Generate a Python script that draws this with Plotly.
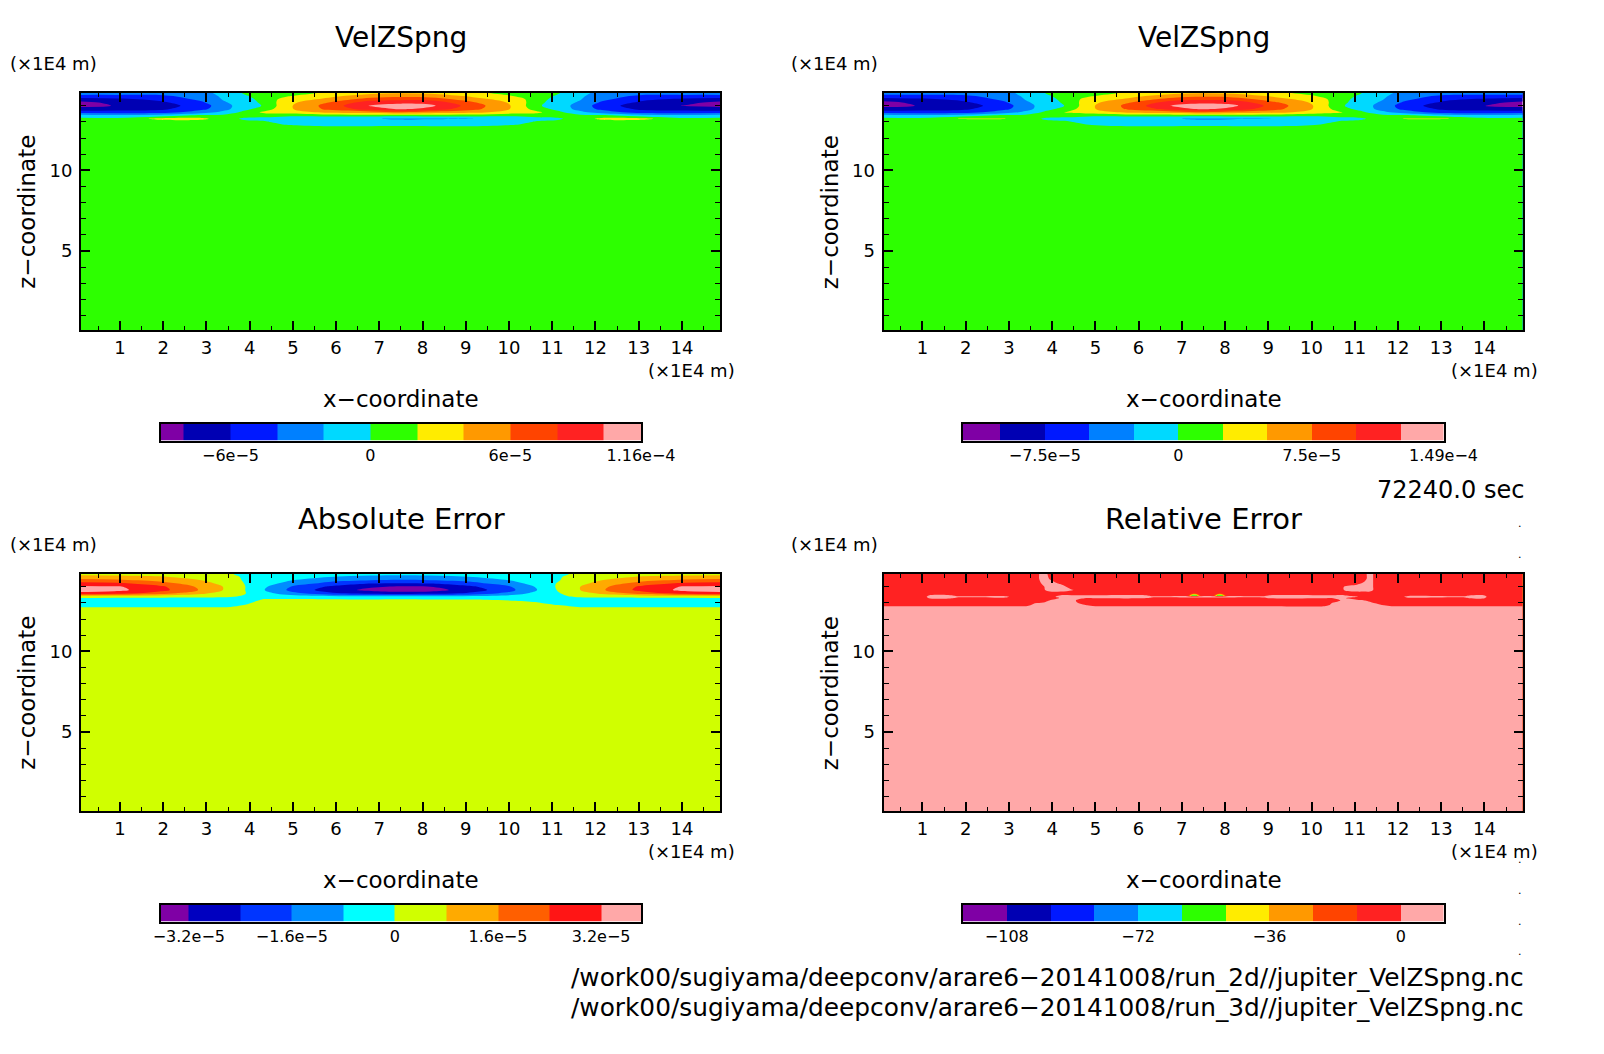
import numpy as np
import plotly.graph_objects as go

W, H = 1604, 1054

# ---------- colours ----------
COL11 = ["#7f00a5", "#0000b3", "#0019ff", "#0080ff", "#00d9ff", "#2dff00",
         "#ffec00", "#ff9900", "#ff4400", "#ff2222", "#ffa8a8"]
COL10 = ["#7f00a5", "#0000c0", "#0035ff", "#008cff", "#00ffff", "#d0ff00",
         "#ffaa00", "#ff5f00", "#ff1515", "#ffa8a8"]

# ---------- shared axes ----------
X_MAIN = [0.0, 0.93, 1.91, 2.89, 3.38, 3.87, 4.35, 4.85, 5.83, 6.81, 7.5,
          8.19, 9.17, 10.15, 10.65, 11.13, 11.65, 12.15, 13.09, 14.07, 15.0]
Z_MAIN = [15.0, 14.8, 14.6, 14.4, 14.2, 14.0, 13.8, 13.6, 13.4, 13.2, 13.0, 12.8, 12.6, 0.0]
X_TICKS = list(range(1, 15))
Z_TICKS = [5, 10]

# ---------- panel 1: VelZSpng, run_2d (1e-5 m/s); one list per x column ----------
VEL_A = [
    [-3, -3, -4.6, -7, -8.6, -8.6, -7, -5, -1, .5, 1, 1, 1, 1],
    [-3, -3, -4.6, -6.5, -7.5, -7.9, -7, -5, -1.5, .5, 1, 1, 1, 1],
    [-2.5, -3, -4.5, -5.5, -6.5, -7, -6.5, -5, -1, 2.5, 1, 1, 1, 1],
    [-2.2, -2.5, -3, -3.5, -4.3, -5, -4.5, -3, .5, 2.5, 1, 1, 1, 1],
    [-1.5, -1.5, -1.7, -1.9, -2.3, -2.8, -2.8, -1.5, .5, 1, 1, 1, 1, 1],
    [.3, .2, -.3, -.8, -1, -1, -.6, .5, .8, -.3, .5, 1, 1, 1],
    [.5, .8, 1, .8, .5, .2, 1, 2.5, 1, -.8, .3, 1, 1, 1],
    [.8, 1.2, 1.8, 2.8, 3.3, 3.5, 3.5, 3, .5, -1.2, -1, .1, 1, 1],
    [1.5, 2.2, 3.5, 4.5, 6, 6.8, 6.5, 4.5, 1, -2, -1.5, -.5, 1, 1],
    [2.5, 3.5, 5, 7, 9.2, 10.2, 9, 5, 1, -1.9, -1.5, -.5, 1, 1],
    [2.8, 3.8, 5.5, 7.5, 9.5, 11, 10.3, 6, .8, -2.2, -1.5, -.4, 1, 1],
    [2.5, 3.5, 5.2, 7.2, 9.3, 10.4, 9.3, 5.2, 1, -2.1, -1.5, -.5, 1, 1],
    [1.6, 2.3, 3.6, 4.8, 6.2, 7, 6.6, 4.6, 1, -2, -1.5, -.5, 1, 1],
    [.8, 1.3, 1.9, 2.9, 3.4, 3.6, 3.6, 3, .5, -1.3, -1, .1, 1, 1],
    [.5, .8, 1, .9, .6, .3, 1, 2.5, 1, -.8, .3, 1, 1, 1],
    [.3, .2, -.3, -.8, -1, -1, -.6, .5, .8, -.3, .5, 1, 1, 1],
    [-1.5, -1.5, -1.7, -1.9, -2.3, -2.8, -2.8, -1.5, .5, 1, 1, 1, 1, 1],
    [-2.2, -2.5, -3, -3.5, -4.3, -5, -4.5, -3, .5, 2.5, 1, 1, 1, 1],
    [-2.5, -3, -4.5, -5.5, -6.5, -7.2, -6.5, -5, -1, 2.5, 1, 1, 1, 1],
    [-3, -3, -4.6, -6.5, -7.5, -8.1, -7, -5, -1.5, .5, 1, 1, 1, 1],
    [-3, -3, -4.6, -7, -8.6, -8.7, -7, -5, -1, .5, 1, 1, 1, 1],
]
EDGES_A = [-8, -6, -4, -2, 0, 2, 4, 6, 8, 10]
BAR_LIMITS_A = [-9.0, 11.6]
BAR_TICKS_A = [-6, 0, 6, 11.6]
BAR_LABELS_A = ["−6e−5", "0", "6e−5", "1.16e−4"]

# ---------- panel 2: VelZSpng, run_3d ----------
VEL_B = [
    [-3.8, -3.8, -5.8, -8.8, -10.8, -10.8, -8.8, -6.2, -1.2, .6, 1.2, 1.2, 1.2, 1.2],
    [-3.8, -3.8, -5.8, -8.1, -9.4, -9.9, -8.8, -6.2, -1.9, .6, 1.2, 1.2, 1.2, 1.2],
    [-3.1, -3.8, -5.6, -6.9, -8.1, -8.8, -8.1, -6.2, -1.2, 2.7, 1.2, 1.2, 1.2, 1.2],
    [-2.8, -3.1, -3.8, -4.4, -5.4, -6.2, -5.6, -3.8, .6, 2.6, 1.2, 1.2, 1.2, 1.2],
    [-1.9, -1.9, -2.1, -2.4, -2.9, -3.5, -3.5, -1.9, .6, 1.2, 1.2, 1.2, 1.2, 1.2],
    [.4, .2, -.4, -1, -1.2, -1.2, -.8, .6, 1, -.4, .6, 1.2, 1.2, 1.2],
    [.6, 1, 1.2, 1, .6, .2, 1.2, 2.8, 1.2, -1, .4, 1.2, 1.2, 1.2],
    [1, 1.5, 2.2, 3.5, 4.1, 4.4, 4.4, 3.8, .6, -1.5, -1.2, .1, 1.2, 1.2],
    [1.9, 2.8, 4.4, 5.6, 7.5, 8.5, 8.1, 5.6, 1.2, -2.5, -1.9, -.6, 1.2, 1.2],
    [3.1, 4.4, 6.2, 8.8, 11.5, 12.8, 11.2, 6.2, 1.2, -2.4, -1.9, -.6, 1.2, 1.2],
    [3.5, 4.8, 6.9, 9.4, 11.9, 13.8, 12.9, 7.5, 1, -2.8, -1.9, -.5, 1.2, 1.2],
    [3.1, 4.4, 6.5, 9, 11.6, 13, 11.6, 6.5, 1.2, -2.6, -1.9, -.6, 1.2, 1.2],
    [2, 2.9, 4.5, 6, 7.8, 8.8, 8.2, 5.8, 1.2, -2.5, -1.9, -.6, 1.2, 1.2],
    [1, 1.6, 2.4, 3.6, 4.2, 4.5, 4.5, 3.8, .6, -1.6, -1.2, .1, 1.2, 1.2],
    [.6, 1, 1.2, 1.1, .8, .4, 1.2, 2.8, 1.2, -1, .4, 1.2, 1.2, 1.2],
    [.4, .2, -.4, -1, -1.2, -1.2, -.8, .6, 1, -.4, .6, 1.2, 1.2, 1.2],
    [-1.9, -1.9, -2.1, -2.4, -2.9, -3.5, -3.5, -1.9, .6, 1.2, 1.2, 1.2, 1.2, 1.2],
    [-2.8, -3.1, -3.8, -4.4, -5.4, -6.2, -5.6, -3.8, .6, 2.6, 1.2, 1.2, 1.2, 1.2],
    [-3.1, -3.8, -5.6, -6.9, -8.1, -9, -8.1, -6.2, -1.2, 2.7, 1.2, 1.2, 1.2, 1.2],
    [-3.8, -3.8, -5.8, -8.1, -9.4, -10.1, -8.8, -6.2, -1.9, .6, 1.2, 1.2, 1.2, 1.2],
    [-3.8, -3.8, -5.8, -8.8, -10.8, -10.9, -8.8, -6.2, -1.2, .6, 1.2, 1.2, 1.2, 1.2],
]
EDGES_B = [-10, -7.5, -5, -2.5, 0, 2.5, 5, 7.5, 10, 12.5]
BAR_LIMITS_B = [-12.1, 14.9]
BAR_TICKS_B = [-7.5, 0, 7.5, 14.9]
BAR_LABELS_B = ["−7.5e−5", "0", "7.5e−5", "1.49e−4"]

# ---------- panel 3: Absolute Error ----------
ERR_ABS = [
    [.5, .5, 1.2, 1.9, 2.7, 3.4, 3.6, 3.0, .4, -.4, -.4, -.1, .2, .2],
    [.5, .5, 1.1, 1.8, 2.6, 3.3, 3.4, 2.8, .3, -.5, -.5, -.1, .2, .2],
    [.5, .5, .9, 1.4, 2, 2.6, 2.7, 2, .3, -.5, -.5, -.1, .2, .2],
    [.3, .3, .5, .8, 1.1, 1.4, 1.5, 1, .2, -.4, -.4, -.1, .2, .2],
    [.1, .1, .2, .4, .6, .8, .8, .4, .1, -.3, -.3, -.1, .2, .2],
    [-.1, -.1, -.05, -.05, 0, .05, .05, .05, -.05, -.2, -.1, .05, .2, .2],
    [-.1, -.1, -.2, -.4, -.5, -.7, -.8, -.5, -.2, .05, .2, .2, .2, .2],
    [-.2, -.2, -.4, -.7, -1, -1.5, -1.6, -1.2, -.4, .1, .2, .2, .2, .2],
    [-.4, -.4, -.8, -1.3, -1.9, -2.5, -2.8, -2.2, -.6, .1, .2, .2, .2, .2],
    [-.6, -.6, -1, -1.6, -2.4, -3.1, -3.4, -2.7, -.7, .05, .2, .2, .2, .2],
    [-.6, -.6, -1.1, -1.7, -2.5, -3.3, -3.6, -2.9, -.6, .1, .2, .2, .2, .2],
    [-.6, -.6, -1, -1.6, -2.4, -3.2, -3.5, -2.8, -.7, .05, .2, .2, .2, .2],
    [-.4, -.4, -.8, -1.3, -1.9, -2.5, -2.8, -2.2, -.6, .05, .2, .2, .2, .2],
    [-.2, -.2, -.4, -.7, -1, -1.5, -1.6, -1.2, -.4, -.1, .2, .2, .2, .2],
    [-.1, -.1, -.2, -.4, -.5, -.7, -.8, -.5, -.2, -.2, .05, .2, .2, .2],
    [-.1, -.1, -.05, -.05, .05, .1, .05, -.05, -.1, -.2, -.2, .1, .2, .2],
    [.1, .1, .2, .4, .6, .8, .8, .4, .1, -.3, -.3, -.1, .2, .2],
    [.3, .3, .5, .8, 1.1, 1.4, 1.5, 1, .2, -.4, -.4, -.1, .2, .2],
    [.5, .5, .9, 1.4, 2, 2.6, 2.7, 2, .3, -.5, -.5, -.1, .2, .2],
    [.5, .5, 1.1, 1.8, 2.6, 3.3, 3.4, 2.8, .3, -.5, -.5, -.1, .2, .2],
    [.5, .5, 1.2, 1.9, 2.7, 3.4, 3.6, 3.0, .4, -.4, -.4, -.1, .2, .2],
]
EDGES_ABS = [-3.2, -2.4, -1.6, -.8, 0, .8, 1.6, 2.4, 3.2]
BAR_LIMITS_ABS = [-3.64, 3.82]
BAR_TICKS_ABS = [-3.2, -1.6, 0, 1.6, 3.2]
BAR_LABELS_ABS = ["−3.2e−5", "−1.6e−5", "0", "1.6e−5", "3.2e−5"]

# ---------- panel 4: Relative Error (%) ----------
Z_REL = [15, 14.8, 14.5, 14.2, 14.0, 13.8, 13.6, 13.46, 13.38, 13.3, 13.15, 13.0, 12.85, 12.75, 0]
RED = [-6, -6, -6, -6, -6, -6, -6, -6, -6, -6, -6, -6, -6, 6, 6]
THIN = [-6, -6, -6, -6, -6, -6, -6, -6, 6, -6, -6, -6, -6, 6, 6]
THICK = [-6, -6, -6, -6, -6, -6, -6, .5, 6, .5, -6, -6, -6, 6, 6]
SPOT = [-6, -6, -6, -6, -6, -6, -6, -64, 6, -6, -6, -6, -6, 6, 6]
HUMP_EDGE = [-6, -6, -6, -6, -6, -6, -6, -6, -6, -6, -6, -1, 6, 6, 6]
TONGUE_1 = [6, 6, 6, 2, -1, -2, -6, -6, -6, -6, -6, 1, 6, 6, 6]
TONGUE_2 = [-6, -4, -1, 6, 6, 6, -6, -6, -6, -6, 1, 6, 6, 6, 6]
TONGUE_3 = [-6, -6, -6, -2, 6, 6, -6, 1, 6, 1, 3, 6, 6, 6, 6]
TONGUE_4 = [-6, -6, -6, -6, -6, 1, -6, 1, 6, 3, 3, 6, 6, 6, 6]
TONGUE_5 = [-6, -6, -6, -6, -6, -6, -6, .5, 6, .5, -6, -6, 2, 6, 6]
TONGUE_6 = [-6, -6, -6, -6, -6, -6, -6, .5, 6, .5, -6, 1, 6, 6, 6]
TONGUE_7 = [-6, -6, -6, -6, 0, 0, -6, 1, 6, 1, 3, 6, 6, 6, 6]
TONGUE_8 = [-6, -6, -6, -3, 6, 6, -6, -6, 1, -6, 3, 6, 6, 6, 6]
TONGUE_9 = [-6, -6, -6, 2, 6, 6, -6, -6, -6, -6, 1, 6, 6, 6, 6]
TONGUE_10 = [6, 6, 6, 6, 6, 6, -6, -6, -6, -6, -3, 3, 6, 6, 6]
TONGUE_11 = [-6, -6, -6, -6, -6, -6, -6, -6, -6, -6, -6, -2, 6, 6, 6]
X_REL = [0, 1.05, 1.15, 1.7, 1.8, 2.95, 3.05, 3.4, 3.6, 3.8, 3.95, 4.2, 4.45, 4.75, 5.0, 6.2, 6.3,
         7.13, 7.25, 7.33, 7.45, 7.72, 7.84, 7.92, 8.04, 8.9, 9.0, 10.3, 10.5, 10.75, 11.05, 11.2, 11.35, 11.5,
         11.85, 12.1, 12.2, 13.55, 13.65, 14.0, 14.1, 15]
ERR_REL = [RED, RED, THICK, THICK, THIN, THIN, RED, RED, HUMP_EDGE, TONGUE_1, TONGUE_2, TONGUE_3,
           TONGUE_4, TONGUE_5, THICK, THICK, THIN, THIN, SPOT, SPOT, THIN, THIN, SPOT, SPOT, THIN, THIN, THICK,
           THICK, TONGUE_6, TONGUE_7, TONGUE_8, TONGUE_9, TONGUE_10, TONGUE_11, RED, RED, THIN, THIN,
           THICK, THICK, RED, RED]
EDGES_REL = [-108, -96, -84, -72, -60, -48, -36, -24, -12, 0]
BAR_LIMITS_REL = [-120, 11.7]
BAR_TICKS_REL = [-108, -72, -36, 0]
BAR_LABELS_REL = ["−108", "−72", "−36", "0"]

TITLES = ["VelZSpng", "VelZSpng", "Absolute Error", "Relative Error"]
TITLE_SIZES = [28, 28, 29, 29]
TIME_LABEL = "72240.0 sec"
FILE_LABELS = ["/work00/sugiyama/deepconv/arare6−20141008/run_2d//jupiter_VelZSpng.nc",
               "/work00/sugiyama/deepconv/arare6−20141008/run_3d//jupiter_VelZSpng.nc"]

PANELS = [
    (X_MAIN, Z_MAIN, VEL_A, EDGES_A, COL11, BAR_LIMITS_A, BAR_TICKS_A, BAR_LABELS_A),
    (X_MAIN, Z_MAIN, VEL_B, EDGES_B, COL11, BAR_LIMITS_B, BAR_TICKS_B, BAR_LABELS_B),
    (X_MAIN, Z_MAIN, ERR_ABS, EDGES_ABS, COL10, BAR_LIMITS_ABS, BAR_TICKS_ABS, BAR_LABELS_ABS),
    (X_REL, Z_REL, ERR_REL, EDGES_REL, COL11, BAR_LIMITS_REL, BAR_TICKS_REL, BAR_LABELS_REL),
]

# ---------- layout geometry (pixels) ----------
LEFTS = [81, 883.5, 81, 883.5]
TOPS = [92.7, 92.7, 573.7, 573.7]
UNIT_LEFT = [8, 789, 8, 789]
PW, PH = 639, 237.5
BAR_LEFT_OFF, BAR_W = 79.5, 480.5
BAR_TOP_OFF, BAR_H = 330.8, 17
FONT = "DejaVu Sans"


def fx(p):
    return p / W


def fy(p):
    return 1 - p / H


fig = go.Figure()
layout = {}
annotations = []


def note(text, x, y, size, xanchor="center", angle=0):
    annotations.append(dict(text=text, x=fx(x), y=fy(y), xref="paper", yref="paper", showarrow=False,
                            xanchor=xanchor, yanchor="middle", textangle=angle,
                            font=dict(family=FONT, size=size, color="black")))


for i, (xs, zs, cols, edges, colors, lim, btick, blabel) in enumerate(PANELS):
    ax = 2 * i + 1
    bx = 2 * i + 2
    left, top = LEFTS[i], TOPS[i]
    grid = np.array(cols, dtype=float).T
    n = len(colors)
    scale = [[k / (n - 1), c] for k, c in enumerate(colors)]
    fig.add_trace(go.Contour(
        x=xs, y=zs, z=grid, xaxis=f"x{ax}", yaxis=f"y{ax}", autocontour=False,
        contours=dict(start=edges[0], end=edges[-1], size=edges[1] - edges[0], coloring="fill", showlines=False),
        line=dict(width=0), colorscale=scale, showscale=False, hoverinfo="skip"))
    layout[f"xaxis{ax}"] = dict(
        domain=[fx(left), fx(left + PW)], anchor=f"y{ax}", range=[0.1, 14.88], showgrid=False, zeroline=False,
        showline=True, linecolor="black", linewidth=2, mirror="ticks", ticks="inside", ticklen=9, tickwidth=2,
        tickcolor="black", tickvals=X_TICKS, ticklabelstandoff=0,
        tickfont=dict(family=FONT, size=18, color="black"),
        minor=dict(tickvals=[k + 0.5 for k in range(0, 15)], ticks="inside", ticklen=4, tickwidth=1, tickcolor="black"))
    layout[f"yaxis{ax}"] = dict(
        domain=[fy(top + PH), fy(top)], anchor=f"x{ax}", range=[0.1, 14.81], showgrid=False, zeroline=False,
        showline=True, linecolor="black", linewidth=2, mirror="ticks", ticks="inside", ticklen=9, tickwidth=2,
        tickcolor="black", tickvals=Z_TICKS, ticklabelstandoff=3,
        tickfont=dict(family=FONT, size=18, color="black"),
        minor=dict(tickvals=[1, 2, 3, 4, 6, 7, 8, 9, 11, 12, 13, 14], ticks="inside", ticklen=5, tickwidth=1,
                   tickcolor="black"))

    # colour bar as its own small axis pair
    bounds = [lim[0]] + list(edges) + [lim[1]]
    m = len(colors)
    bscale = []
    for k, c in enumerate(colors):
        bscale += [[k / m, c], [(k + 1) / m, c]]
    fig.add_trace(go.Heatmap(
        x=bounds, y=[0, 1], z=[[k + 0.5 for k in range(m)]], xaxis=f"x{bx}", yaxis=f"y{bx}",
        zmin=0, zmax=m, colorscale=bscale, showscale=False, hoverinfo="skip"))
    bl = left + BAR_LEFT_OFF
    bt = top + BAR_TOP_OFF
    layout[f"xaxis{bx}"] = dict(
        domain=[fx(bl), fx(bl + BAR_W)], anchor=f"y{bx}", range=[lim[0], lim[1]], showgrid=False, zeroline=False,
        showline=True, linecolor="black", linewidth=2, mirror=True, ticks="", tickvals=btick, ticktext=blabel,
        ticklabelstandoff=-1, tickfont=dict(family=FONT, size=16, color="black"))
    layout[f"yaxis{bx}"] = dict(
        domain=[fy(bt + BAR_H), fy(bt)], anchor=f"x{bx}", range=[0, 1], showgrid=False, zeroline=False,
        showline=True, linecolor="black", linewidth=2, mirror=True, ticks="", showticklabels=False)

    # panel texts
    note(TITLES[i], left + 320, top - 55, TITLE_SIZES[i])
    note("(×1E4 m)", UNIT_LEFT[i], top - 29.5, 18, "left")
    note("(×1E4 m)", left + 565, top + 277.5, 18, "left")
    note("x−coordinate", left + 320, top + 306.5, 23)
    note("z−coordinate", left - 53.5, top + 119.5, 23, angle=-90)

note(TIME_LABEL, 1526, 490, 24, "right")
note(FILE_LABELS[0], 1526, 977, 24.8, "right")
note(FILE_LABELS[1], 1526, 1007.5, 24.8, "right")
for dot_y in [524, 554.5, 859, 890, 921, 951.5]:
    note(".", 1520, dot_y, 11)

fig.update_layout(width=W, height=H, margin=dict(l=0, r=0, t=0, b=0, autoexpand=False), paper_bgcolor="white",
                  plot_bgcolor="white", showlegend=False, annotations=annotations, **layout)
fig.write_html("out.html", post_script="document.body.style.margin='0';",
               config=dict(displayModeBar=False))
